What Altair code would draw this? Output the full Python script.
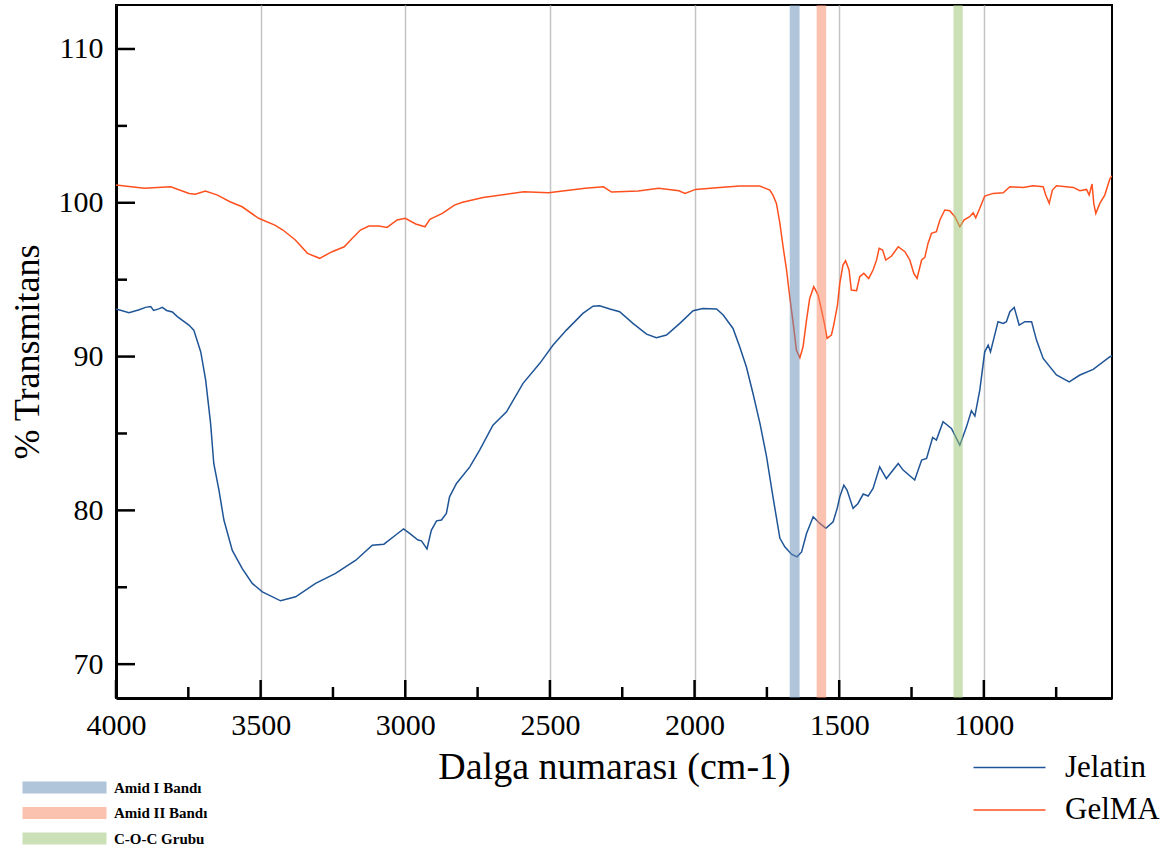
import altair as alt
import pandas as pd

# ---------------- data ----------------
jel_wn = [4000, 3955, 3920, 3898, 3880, 3870, 3852, 3840, 3825, 3805, 3788, 3748, 3731, 3707,
          3690, 3673, 3662, 3644, 3627, 3598, 3563, 3529, 3494, 3431, 3379, 3310, 3241,
          3171, 3114, 3074, 3033, 3006, 2985, 2956, 2944, 2925, 2910, 2892, 2875, 2858,
          2847, 2823, 2777, 2743, 2697, 2650, 2593, 2535, 2489, 2443, 2386, 2351, 2328,
          2293, 2259, 2213, 2166, 2132, 2097, 2051, 2005, 1971, 1924, 1901, 1867, 1844,
          1821, 1798, 1774, 1751, 1729, 1705, 1688, 1665, 1646, 1630, 1613, 1590, 1567,
          1546, 1521, 1507, 1498, 1484, 1473, 1452, 1435, 1417, 1400, 1383, 1360, 1337,
          1296, 1279, 1239, 1215, 1198, 1177, 1164, 1141, 1112, 1083, 1060, 1043, 1031,
          1014, 997, 985, 977, 951, 933, 922, 910, 895, 878, 858, 835, 818, 795, 749,
          705, 668, 622, 564, 557]
jel_t = [93.09, 92.85, 93.05, 93.2, 93.25, 93.0, 93.1, 93.2, 93.0, 92.9, 92.6, 92.05, 91.72, 90.3,
         88.47, 85.66, 83.05, 81.3, 79.37, 77.4, 76.2, 75.25, 74.7, 74.12, 74.38, 75.25, 75.9,
         76.76, 77.74, 77.8, 78.4, 78.8, 78.5, 78.07, 78.02, 77.5, 78.7, 79.32, 79.37, 79.8,
         80.88, 81.75, 82.83, 83.92, 85.54, 86.41, 88.26, 89.56, 90.75, 91.72, 92.81, 93.28, 93.3,
         93.09, 92.92, 92.16, 91.46, 91.22, 91.4, 92.16, 92.98, 93.13, 93.09, 92.7, 91.83, 90.64,
         89.34, 87.6, 85.66, 83.48, 80.88, 78.18, 77.63, 77.15, 76.98, 77.3, 78.5, 79.58, 79.15,
         78.83, 79.26, 80.13, 80.88, 81.64, 81.32, 80.13, 80.45, 81.06, 80.93, 81.43, 82.83, 82.07,
         83.05, 82.62, 81.97, 83.27, 83.38, 84.74, 84.57, 85.76, 85.33, 84.24, 85.43, 86.48, 86.13,
         87.82, 90.31, 90.75, 90.31, 92.27, 92.16, 92.27, 92.92, 93.2, 92.05, 92.27, 92.27, 91.07, 89.88, 88.8,
         88.36, 88.8, 89.17, 89.99, 90.05]

gel_wn = [4000, 3902, 3811, 3747, 3726, 3691, 3649, 3606, 3564, 3507, 3451, 3423, 3380, 3338,
          3296, 3253, 3211, 3183, 3155, 3126, 3091, 3063, 3028, 3000, 2964, 2932, 2915, 2872,
          2830, 2802, 2731, 2590, 2505, 2378, 2315, 2287, 2195, 2124, 2054, 2033, 1997, 1913,
          1844, 1775, 1740, 1729, 1717, 1705, 1694, 1682, 1671, 1659, 1648, 1636, 1625, 1613,
          1602, 1588, 1573, 1561, 1550, 1542, 1527, 1519, 1506, 1498, 1487, 1478, 1466, 1458,
          1440, 1429, 1415, 1398, 1383, 1371, 1362, 1350, 1339, 1319, 1296, 1273, 1256, 1242,
          1231, 1215, 1204, 1193, 1181, 1164, 1152, 1135, 1118, 1100, 1083, 1069, 1049, 1037,
          1028, 1014, 997, 968, 933, 910, 864, 830, 795, 786, 774, 763, 749, 691, 668, 645,
          636, 626, 620, 613, 599, 582, 564, 557]
gel_t = [101.15, 100.94, 101.04, 100.61, 100.55, 100.76, 100.5, 100.07, 99.74, 98.99, 98.55, 98.23, 97.58, 96.71,
         96.39, 96.82, 97.14, 97.69, 98.23, 98.49, 98.49, 98.4, 98.88, 98.99, 98.62, 98.44, 98.92, 99.31,
         99.85, 100.03, 100.35, 100.72, 100.65, 100.94, 101.04, 100.7, 100.76, 100.94, 100.78, 100.61, 100.87, 101.0,
         101.09, 101.09, 100.83, 100.5, 99.96, 98.66, 97.14, 95.63, 93.89, 92.16, 90.42, 89.92, 90.64, 92.37,
         93.78, 94.54, 94.0, 93.02, 92.05, 91.18, 91.4, 92.05, 93.35, 94.76, 95.95, 96.23, 95.63, 94.33,
         94.28, 95.19, 95.41, 95.08, 95.63, 96.27, 97.04, 96.93, 96.28, 96.54, 97.14, 96.82, 96.28, 95.41,
         95.08, 96.28, 96.45, 97.36, 98.01, 98.12, 98.88, 99.53, 99.48, 99.09, 98.44, 98.88, 99.09, 99.35,
         99.03, 99.64, 100.44, 100.61, 100.65, 101.04, 101.0, 101.11, 101.04, 100.5, 99.96, 100.83, 101.11, 101.0, 100.78, 100.87,
         100.5, 101.22, 99.96, 99.31, 99.96, 100.5, 101.58, 101.75]

series_names = ["Jelatin", "GelMA"]
series_colors = ["#1f5596", "#ff501e"]

band_names = ["Amid I Bandı", "Amid II Bandı", "C-O-C Grubu"]
band_start = [1671, 1578, 1105]
band_end = [1637, 1545, 1073]
band_colors = ["#6189b5", "#f98561", "#99c171"]

x_major = [4000, 3500, 3000, 2500, 2000, 1500, 1000]
x_minor = [3750, 3250, 2750, 2250, 1750, 1250, 750]
y_major = [70, 80, 90, 100, 110]
y_minor = [75, 85, 95, 105]
x_domain = [4000, 557]
y_domain = [67.8, 112.86]

# ---------------- tables ----------------
lines_df = pd.concat([
    pd.DataFrame({"wn": jel_wn, "t": jel_t, "series": series_names[0]}),
    pd.DataFrame({"wn": gel_wn, "t": gel_t, "series": series_names[1]}),
], ignore_index=True)
bands_df = pd.DataFrame({"wn": band_start, "wn2": band_end, "name": band_names})
xmaj_df = pd.DataFrame({"wn": x_major})
xmin_df = pd.DataFrame({"wn": x_minor})
ymaj_df = pd.DataFrame({"t": y_major})
ymin_df = pd.DataFrame({"t": y_minor})

W, H = 996, 693
FONT = "Liberation Serif"

xscale = alt.Scale(domain=x_domain, nice=False, zero=False)
yscale = alt.Scale(domain=y_domain, nice=False, zero=False)

xaxis = alt.Axis(values=x_major, format="d", ticks=False, grid=True, gridColor="#c4c4c4",
                 gridWidth=1.5, domainColor="black", domainWidth=3, labelFont=FONT,
                 labelFontSize=30, labelColor="black", labelPadding=12, labelFlush=False,
                 labelOverlap=False, labelBound=False,
                 title="Dalga numarası (cm-1)", titleFont=FONT, titleFontSize=38,
                 titleFontWeight="normal", titleColor="black", titlePadding=8)
yaxis = alt.Axis(values=y_major, format="d", ticks=False, grid=False, domainColor="black",
                 domainWidth=3, labelFont=FONT, labelFontSize=30, labelColor="black",
                 labelPadding=13, labelFlush=False, labelOverlap=False,
                 title="% Transmitans", titleFont=FONT, titleFontSize=36,
                 titleFontWeight="normal", titleColor="black", titlePadding=12)

X = lambda: alt.X("wn:Q", scale=xscale, axis=xaxis)
Y = lambda: alt.Y("t:Q", scale=yscale, axis=yaxis)

lines = alt.Chart(lines_df).mark_line(strokeWidth=1.5, clip=True).encode(
    x=X(), y=Y(),
    stroke=alt.Stroke("series:N", scale=alt.Scale(domain=series_names, range=series_colors),
                      legend=alt.Legend(orient="none", legendX=878, legendY=747, title=None,
                                        padding=0, symbolType="M-7.2,0H7.2", symbolSize=100,
                                        symbolStrokeWidth=1.5, labelFont=FONT, labelFontSize=31,
                                        labelColor="black", labelOffset=40, rowPadding=10.5)),
)

bands = alt.Chart(bands_df).mark_rect(opacity=0.5).encode(
    x=X(), x2="wn2:Q",
    fill=alt.Fill("name:N", scale=alt.Scale(domain=band_names, range=band_colors),
                  legend=alt.Legend(orient="none", legendX=-59, legendY=775, title=None,
                                    padding=0, symbolType="M-8.4,-1.2H8.4V1.2H-8.4Z",
                                    symbolSize=100, symbolStrokeWidth=0, symbolOpacity=0.5,
                                    labelFont=FONT, labelFontSize=15, labelFontWeight="bold",
                                    labelColor="black", labelOffset=42, rowPadding=9.5)),
)

xt_major = alt.Chart(xmaj_df).mark_rule(color="black", strokeWidth=2.5).encode(
    x=X(), y=alt.value(H), y2=alt.value(H - 18))
xt_minor = alt.Chart(xmin_df).mark_rule(color="black", strokeWidth=2.5).encode(
    x=X(), y=alt.value(H), y2=alt.value(H - 11))
yt_major = alt.Chart(ymaj_df).mark_rule(color="black", strokeWidth=2.5).encode(
    y=Y(), x=alt.value(0), x2=alt.value(19))
yt_minor = alt.Chart(ymin_df).mark_rule(color="black", strokeWidth=2.5).encode(
    y=Y(), x=alt.value(0), x2=alt.value(11))

chart = alt.layer(lines, bands, xt_major, xt_minor, yt_major, yt_minor).properties(
    width=W, height=H,
    autosize=alt.AutoSizeParams(type="none"),
    padding={"left": 116, "top": 5, "right": 64, "bottom": 152},
    background="white",
).configure_view(stroke="black", strokeWidth=2).configure_axis(
    labelFont=FONT, titleFont=FONT
).configure_legend(labelFont=FONT)

chart.save("out.html", embed_options={"renderer": "svg", "actions": False})
